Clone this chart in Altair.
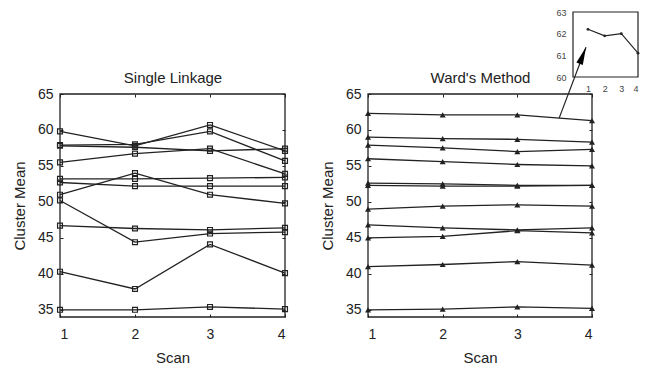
import altair as alt
import pandas as pd

# ---------------- data ----------------
scans = [1, 2, 3, 4]

single_linkage = [
    [59.8, 57.8, 60.7, 57.1],
    [57.9, 58.0, 59.8, 55.7],
    [57.8, 57.6, 57.1, 57.4],
    [55.5, 56.7, 57.4, 53.9],
    [53.2, 53.2, 53.3, 53.4],
    [52.7, 52.2, 52.2, 52.2],
    [51.0, 54.0, 51.0, 49.8],
    [50.2, 44.4, 45.6, 45.8],
    [46.7, 46.3, 46.1, 46.4],
    [40.3, 37.9, 44.1, 40.1],
    [35.0, 35.0, 35.4, 35.1],
]

wards_method = [
    [62.3, 62.1, 62.1, 61.3],
    [59.0, 58.8, 58.7, 58.3],
    [57.9, 57.5, 57.0, 57.3],
    [56.0, 55.6, 55.2, 55.0],
    [52.6, 52.5, 52.3, 52.3],
    [52.3, 52.2, 52.2, 52.3],
    [49.0, 49.4, 49.6, 49.4],
    [46.8, 46.4, 46.1, 46.4],
    [45.0, 45.2, 46.0, 45.7],
    [41.0, 41.3, 41.7, 41.2],
    [35.0, 35.1, 35.4, 35.2],
]

y_ticks = [35, 40, 45, 50, 55, 60, 65]
y_domain = [34, 65]
x_domain = [1, 4]

inset_values = [62.2, 61.9, 62.0, 61.1]
inset_y_ticks = [60, 61, 62, 63]
inset_x_domain = [0.1, 4]
inset_y_domain = [60, 63]

# arrow (in Ward's panel data units): from the top line to the inset
arrow_x = [3.56, 3.92]
arrow_y = [61.65, 71.5]
arrowhead_x = [3.877]
arrowhead_y = [70.37]


def to_long(series_list):
    rows = []
    for i, s in enumerate(series_list):
        for sc, v in zip(scans, s):
            rows.append({"series": i, "scan": sc, "value": v})
    return pd.DataFrame(rows)


W, H = 634, 356
INK = "#222222"
PLOT_TOP, PLOT_BOTTOM = 86, 309


def panel(series_list, title, x_range, shape, filled, size, with_arrow=False):
    df = to_long(series_list)
    xs = alt.Scale(domain=x_domain, range=x_range, nice=False, zero=False)
    ys = alt.Scale(domain=y_domain, range=[PLOT_BOTTOM, PLOT_TOP], nice=False, zero=False)
    x_left, x_right = x_range

    bottom_axis = alt.Axis(orient="bottom", offset=(PLOT_BOTTOM - 3) - H, values=scans,
                           format="d", domain=False, grid=False, tickSize=3,
                           labelPadding=10, title="Scan", titlePadding=9)
    left_axis = alt.Axis(orient="left", offset=-(x_left + 3), values=y_ticks,
                         domain=False, grid=False, tickSize=3, labelPadding=7,
                         title="Cluster Mean", titlePadding=10)
    top_axis = alt.Axis(orient="top", offset=-(PLOT_TOP + 3), values=scans,
                        labels=False, domain=False, grid=False, tickSize=3,
                        title=title, titlePadding=8)
    right_axis = alt.Axis(orient="right", offset=(x_right - 3) - W, values=y_ticks,
                          labels=False, domain=False, grid=False, tickSize=3,
                          title=None)

    base = alt.Chart(df)
    lines = base.mark_line(color=INK, strokeWidth=1.3).encode(
        x=alt.X("scan:Q", scale=xs, axis=bottom_axis),
        y=alt.Y("value:Q", scale=ys, axis=left_axis),
        detail="series:N",
    )
    points = base.mark_point(shape=shape, filled=filled, size=size, color=INK,
                             strokeWidth=1.2, opacity=1).encode(
        x=alt.X("scan:Q", scale=xs, axis=None),
        y=alt.Y("value:Q", scale=ys, axis=None),
    )
    frame_df = pd.DataFrame({"x1": [x_domain[0]], "x2": [x_domain[1]],
                             "y1": [y_domain[0]], "y2": [y_domain[1]]})
    frame = alt.Chart(frame_df).mark_rect(fillOpacity=0, stroke=INK, strokeWidth=1.3).encode(
        x=alt.X("x1:Q", scale=xs, axis=top_axis),
        x2="x2:Q",
        y=alt.Y("y1:Q", scale=ys, axis=right_axis),
        y2="y2:Q",
    )
    layers = [lines, points, frame]
    if with_arrow:
        arrow_df = pd.DataFrame({"x": [arrow_x[0]], "x2": [arrow_x[1]],
                                 "y": [arrow_y[0]], "y2": [arrow_y[1]]})
        arrow = alt.Chart(arrow_df).mark_rule(color=INK, strokeWidth=1.2).encode(
            x=alt.X("x:Q", scale=xs, axis=None),
            x2="x2:Q",
            y=alt.Y("y:Q", scale=ys, axis=None),
            y2="y2:Q",
        )
        head_df = pd.DataFrame({"x": arrowhead_x, "y": arrowhead_y})
        head = alt.Chart(head_df).mark_point(
            shape="M0,-1L0.38,1L-0.38,1Z", filled=True, size=324, angle=21,
            color="#000000", opacity=1,
        ).encode(
            x=alt.X("x:Q", scale=xs, axis=None),
            y=alt.Y("y:Q", scale=ys, axis=None),
        )
        layers += [arrow, head]
    return alt.layer(*layers).resolve_axis(x="independent", y="independent")


left = panel(single_linkage, "Single Linkage", [52, 277], "square", False, 24)
right = panel(wards_method, "Ward's Method", [360, 584], "triangle-up", True, 36, with_arrow=True)

# ---------------- inset ----------------
inset_df = pd.DataFrame({"scan": scans, "value": inset_values})
ixs = alt.Scale(domain=inset_x_domain, range=[565, 630], nice=False, zero=False)
iys = alt.Scale(domain=inset_y_domain, range=[69, 4], nice=False, zero=False)
inset_bottom = alt.Axis(orient="bottom", offset=69 - H, values=scans, format="d",
                        domain=False, grid=False, ticks=False, labelPadding=7,
                        labelFontSize=9, labelColor="#444444", title=None)
inset_left = alt.Axis(orient="left", offset=-565, values=inset_y_ticks, format="d",
                      domain=False, grid=False, ticks=False, labelPadding=7,
                      labelFontSize=9, labelColor="#444444", title=None)
inset_line = alt.Chart(inset_df).mark_line(color=INK, strokeWidth=1.1).encode(
    x=alt.X("scan:Q", scale=ixs, axis=inset_bottom),
    y=alt.Y("value:Q", scale=iys, axis=inset_left),
)
inset_pts = alt.Chart(inset_df).mark_point(shape="circle", filled=True, size=8,
                                           color=INK, opacity=1).encode(
    x=alt.X("scan:Q", scale=ixs, axis=None),
    y=alt.Y("value:Q", scale=iys, axis=None),
)
inset_frame_df = pd.DataFrame({"x1": [inset_x_domain[0]], "x2": [inset_x_domain[1]],
                               "y1": [inset_y_domain[0]], "y2": [inset_y_domain[1]]})
inset_frame = alt.Chart(inset_frame_df).mark_rect(fillOpacity=0, stroke=INK, strokeWidth=1.2).encode(
    x=alt.X("x1:Q", scale=ixs, axis=None),
    x2="x2:Q",
    y=alt.Y("y1:Q", scale=iys, axis=None),
    y2="y2:Q",
)
inset = alt.layer(inset_line, inset_pts, inset_frame).resolve_axis(x="independent", y="independent")

chart = (
    alt.layer(left, right, inset)
    .resolve_scale(x="independent", y="independent")
    .resolve_axis(x="independent", y="independent")
    .properties(width=W, height=H, padding=0,
                autosize=alt.AutoSizeParams(type="none"))
    .configure(font="Liberation Sans")
    .configure_view(stroke="transparent")
    .configure_axis(labelFontSize=14, titleFontSize=15, labelColor=INK, titleColor=INK,
                    tickColor=INK, tickWidth=1, titleFontWeight="normal",
                    labelFont="Liberation Sans", titleFont="Liberation Sans")
)

chart.save("out.html", embed_options={"renderer": "svg", "actions": False})
